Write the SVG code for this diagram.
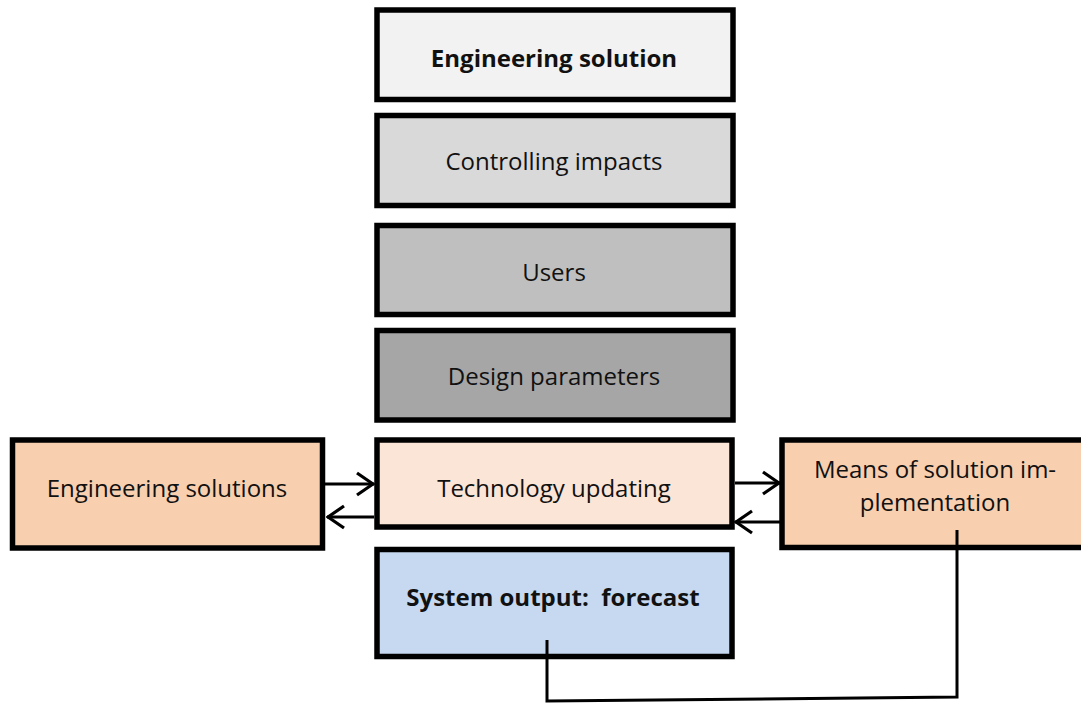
<svg xmlns="http://www.w3.org/2000/svg" width="1081" height="704" viewBox="0 0 1081 704">
<style>
.box{stroke:#000;stroke-width:5.5}
.t{font-family:"Open Sans","Noto Sans",sans-serif;font-size:24px;fill:#111;text-anchor:middle}
.b{font-weight:bold}
.c{fill:none;stroke:#000;stroke-width:3}
</style>
<defs>
<marker id="ah" viewBox="0 0 20 26" refX="19" refY="13" markerWidth="20" markerHeight="26" markerUnits="userSpaceOnUse" orient="auto">
<path d="M2,2 L18,13 L2,24" fill="none" stroke="#000" stroke-width="3.2"/>
</marker>
</defs>
<rect width="1081" height="704" fill="#fff"/>
<g id="n1"><rect class="box" x="377" y="10" width="356" height="89.5" fill="#F2F2F2"/><text class="t b" x="554" y="67">Engineering solution</text></g>
<g id="n2"><rect class="box" x="377" y="115.5" width="356" height="90" fill="#D9D9D9"/><text class="t" x="554" y="170">Controlling impacts</text></g>
<g id="n3"><rect class="box" x="377" y="225.5" width="356" height="89" fill="#BFBFBF"/><text class="t" x="554" y="281">Users</text></g>
<g id="n4"><rect class="box" x="377" y="330.5" width="356" height="89.5" fill="#A6A6A6"/><text class="t" x="554" y="385">Design parameters</text></g>
<g id="n5"><rect class="box" x="377" y="440" width="355" height="87" fill="#FBE5D6"/><text class="t" x="554" y="497">Technology updating</text></g>
<g id="n6"><rect class="box" x="12.5" y="440" width="310" height="108" fill="#F8CFAF"/><text class="t" x="167" y="497">Engineering solutions</text></g>
<g id="n7"><rect class="box" x="782" y="440" width="310" height="107.5" fill="#F8CFAF"/><text class="t" x="935" y="478">Means of solution im-</text><text class="t" x="935" y="511">plementation</text></g>
<g id="n8"><rect class="box" x="377" y="549.5" width="355" height="107" fill="#C6D9F0"/><text class="t b" x="553" y="606" xml:space="preserve">System output:  forecast</text></g>
<g id="connectors">
<line class="c" x1="325" y1="484" x2="374" y2="484" marker-end="url(#ah)"/>
<line class="c" x1="374" y1="517" x2="327" y2="517" marker-end="url(#ah)"/>
<line class="c" x1="735" y1="483" x2="780" y2="483" marker-end="url(#ah)"/>
<line class="c" x1="780" y1="522" x2="735" y2="522" marker-end="url(#ah)"/>
<polyline class="c" points="547,640 547,701 957,697 957,530"/>
</g>
</svg>
